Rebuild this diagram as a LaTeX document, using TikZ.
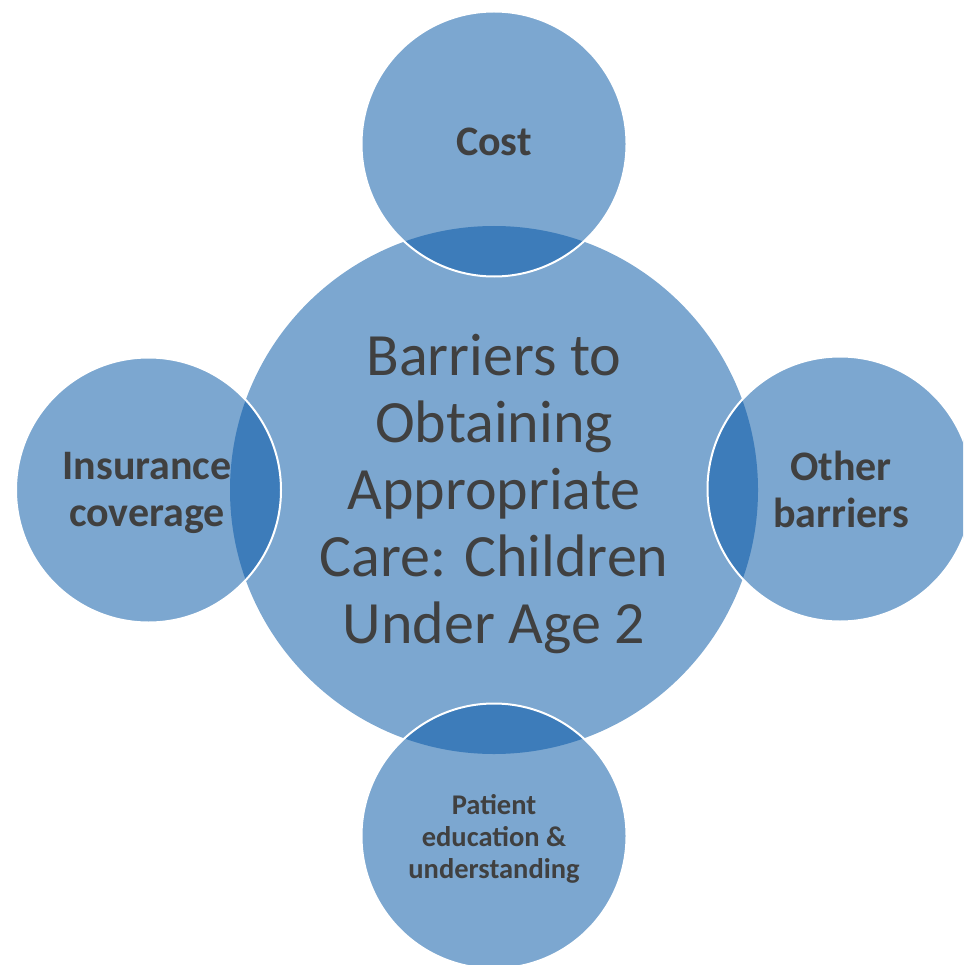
\documentclass[tikz,border=0pt]{standalone}
\usepackage{fontspec}
\setmainfont{Carlito}
\definecolor{circfill}{RGB}{124,167,208}
\definecolor{lensfill}{RGB}{61,124,186}
\definecolor{txt}{RGB}{64,64,64}
\begin{document}
\begin{tikzpicture}[x=1pt,y=-1pt,
  bubble/.style={fill=circfill},
  rim/.style={draw=white,line width=2pt},
  maintext/.style={text=txt,align=center,inner sep=0pt,font=\fontsize{60}{67}\selectfont},
  sidetext/.style={text=txt,align=center,inner sep=0pt,font=\bfseries\fontsize{42}{47}\selectfont},
  smalltext/.style={text=txt,align=center,inner sep=0pt,font=\bfseries\fontsize{28.5}{32}\selectfont}]
\useasboundingbox (0,0) rectangle (963,965);
\clip (0,0) rectangle (963,965);
\coordinate (C) at (494,490);
\coordinate (T) at (494,144);
\coordinate (L) at (148.5,490);
\coordinate (R) at (840,489);
\coordinate (B) at (494,836);
\fill[bubble] (C) circle (264pt);
\foreach \p in {T,L,R,B}{
  \fill[bubble] (\p) circle (132.5pt);
  \begin{scope}
    \clip (C) circle (264pt);
    \fill[lensfill] (\p) circle (132.5pt);
  \end{scope}
  \draw[rim] (\p) circle (132.5pt);
}
\node[maintext] (main) at (494,494) {Barriers to\\Obtaining\\Appropriate\\Care: Children\\Under Age 2};
\node[sidetext, anchor=base] (cost) at (494,156) {Cost};
\node[sidetext] (ins) at (147,493) {Insurance\\coverage};
\node[sidetext] (oth) at (841,489) {Other\\barriers};
\node[smalltext] (pat) at (494,839) {Patient\\education \&\\understanding};
\end{tikzpicture}
\end{document}
